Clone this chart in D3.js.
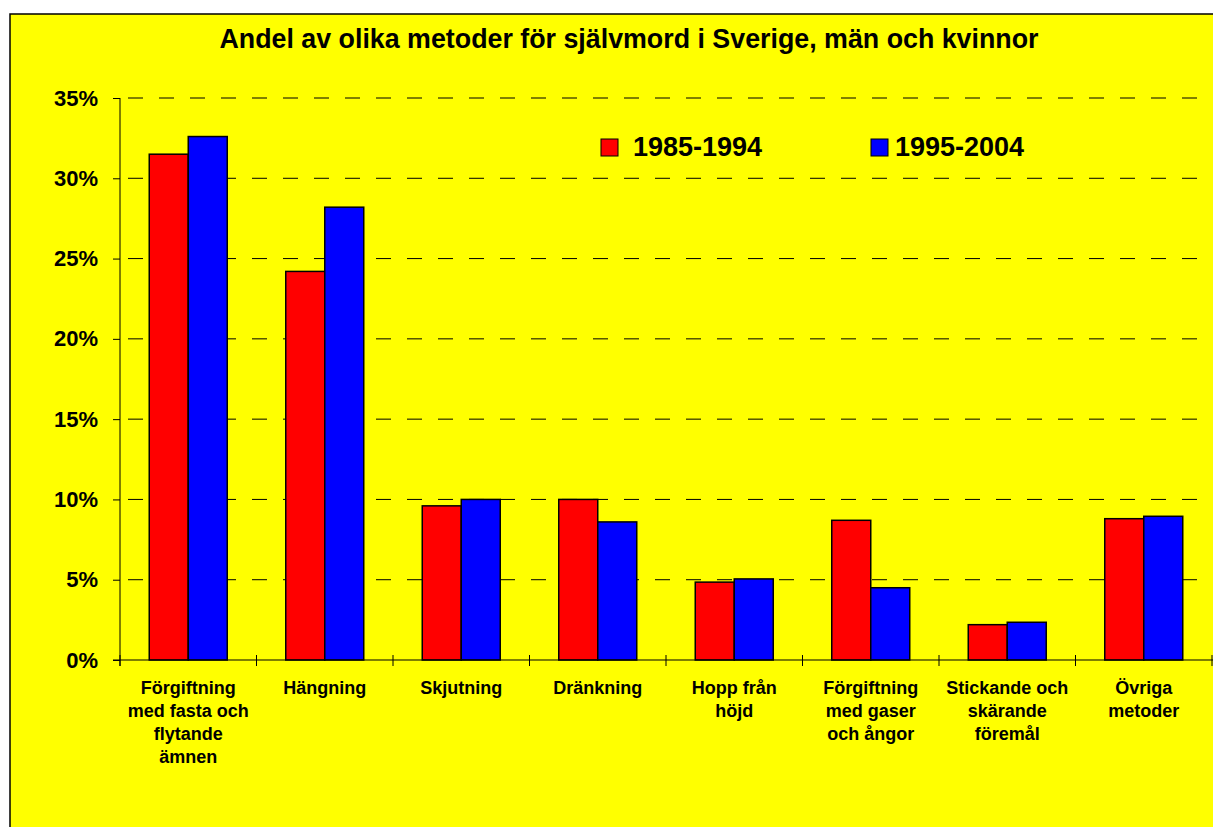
<!DOCTYPE html>
<html>
<head>
<meta charset="utf-8">
<script src="https://cdn.jsdelivr.net/npm/d3@7"></script>
<style>
  body { margin: 0; background: #fff; }
  text { font-family: "Liberation Sans", Arial, sans-serif; font-weight: bold; }
</style>
</head>
<body>
<script>
// data (share of each method, %)
var categories = [
  ["Förgiftning", "med fasta och", "flytande", "ämnen"],
  ["Hängning"],
  ["Skjutning"],
  ["Dränkning"],
  ["Hopp från", "höjd"],
  ["Förgiftning", "med gaser", "och ångor"],
  ["Stickande och", "skärande", "föremål"],
  ["Övriga", "metoder"]
];
var series = ["1985-1994", "1995-2004"];
var values8594 = [31.5, 24.2, 9.6, 10.0, 4.85, 8.7, 2.2, 8.8];
var values9504 = [32.6, 28.2, 10.0, 8.6, 5.05, 4.5, 2.35, 8.95];
var colors = ["#ff0000", "#0000ff"];
var yTicks = [0, 5, 10, 15, 20, 25, 30, 35];
var title = "Andel av olika metoder för självmord i Sverige, män och kvinnor";

var width = 1213, height = 827;
var margin = {top: 98, right: 1, bottom: 167, left: 120};

var svg = d3.select("body").append("svg")
  .attr("width", width)
  .attr("height", height);

// chart frame
svg.append("rect")
  .attr("x", 10).attr("y", 14)
  .attr("width", width + 10).attr("height", height + 10)
  .attr("fill", "#ffff00")
  .attr("stroke", "#000")
  .attr("stroke-width", 1.5);

svg.append("text")
  .attr("x", 629).attr("y", 48)
  .attr("text-anchor", "middle")
  .style("font-size", "26.8px")
  .text(title);

var idx = d3.range(categories.length);
var x0 = d3.scaleBand()
  .domain(idx)
  .range([margin.left, width - margin.right])
  .paddingInner(0.4286)
  .paddingOuter(0.2143);
var x1 = d3.scaleBand()
  .domain(series)
  .range([0, x0.bandwidth()]);
var y = d3.scaleLinear()
  .domain([0, 35])
  .range([height - margin.bottom, margin.top]);

// dashed grid
svg.append("g")
  .selectAll("line")
  .data(yTicks.filter(function(d){return d > 0;}))
  .enter()
  .append("line")
  .attr("x1", margin.left + 8)
  .attr("x2", width)
  .attr("y1", function(d){return y(d);})
  .attr("y2", function(d){return y(d);})
  .attr("stroke", "#000")
  .attr("stroke-width", 1)
  .attr("stroke-dasharray", "15,16");

// bars
var groups = svg.append("g")
  .selectAll("g")
  .data(idx)
  .enter()
  .append("g")
  .attr("transform", function(i){return "translate(" + x0(i) + ",0)";});

groups.selectAll("rect")
  .data(function(i){return [values8594[i], values9504[i]];})
  .enter()
  .append("rect")
  .attr("x", function(d, j){return x1(series[j]);})
  .attr("y", function(d){return y(d);})
  .attr("width", x1.bandwidth())
  .attr("height", function(d){return y(0) - y(d);})
  .attr("fill", function(d, j){return colors[j];})
  .attr("stroke", "#000")
  .attr("stroke-width", 1.5);

// y axis
var yAxis = svg.append("g")
  .attr("transform", "translate(" + margin.left + ",0)")
  .call(d3.axisLeft(y).tickValues(yTicks).tickFormat(function(d){return d + "%";}).tickSize(7).tickPadding(15));
yAxis.select(".domain").attr("d", "M0," + (y(0) + 6) + "V" + y(35));
yAxis.selectAll("text").style("font-size", "22px").attr("fill", "#000");

// x axis line with ticks between categories
var step = x0.step();
svg.append("line")
  .attr("x1", margin.left - 7).attr("x2", width)
  .attr("y1", y(0)).attr("y2", y(0))
  .attr("stroke", "#000").attr("stroke-width", 1.2);
svg.append("g")
  .selectAll("line")
  .data(d3.range(categories.length + 1))
  .enter()
  .append("line")
  .attr("x1", function(i){return margin.left + i * step;})
  .attr("x2", function(i){return margin.left + i * step;})
  .attr("y1", y(0) - 5)
  .attr("y2", y(0) + 6)
  .attr("stroke", "#000");

// category labels
var labels = svg.append("g")
  .selectAll("text")
  .data(idx)
  .enter()
  .append("text")
  .attr("text-anchor", "middle")
  .style("font-size", "18px")
  .attr("y", y(0) + 34);
labels.selectAll("tspan")
  .data(function(i){return categories[i].map(function(t){return {t: t, i: i};});})
  .enter()
  .append("tspan")
  .attr("x", function(d){return x0(d.i) + x0.bandwidth() / 2;})
  .attr("dy", function(d, k){return k === 0 ? 0 : 23;})
  .text(function(d){return d.t;});

// legend
var legendX = [601, 871];
var legend = svg.append("g")
  .selectAll("g")
  .data(series)
  .enter()
  .append("g")
  .attr("transform", function(d, j){return "translate(" + legendX[j] + ",139)";});
legend.append("rect")
  .attr("width", 17).attr("height", 17)
  .attr("fill", function(d, j){return colors[j];})
  .attr("stroke", "#000");
legend.append("text")
  .attr("x", function(d, j){return j === 0 ? 32 : 24;})
  .attr("y", 17)
  .style("font-size", "27px")
  .text(function(d){return d;});
</script>
</body>
</html>
